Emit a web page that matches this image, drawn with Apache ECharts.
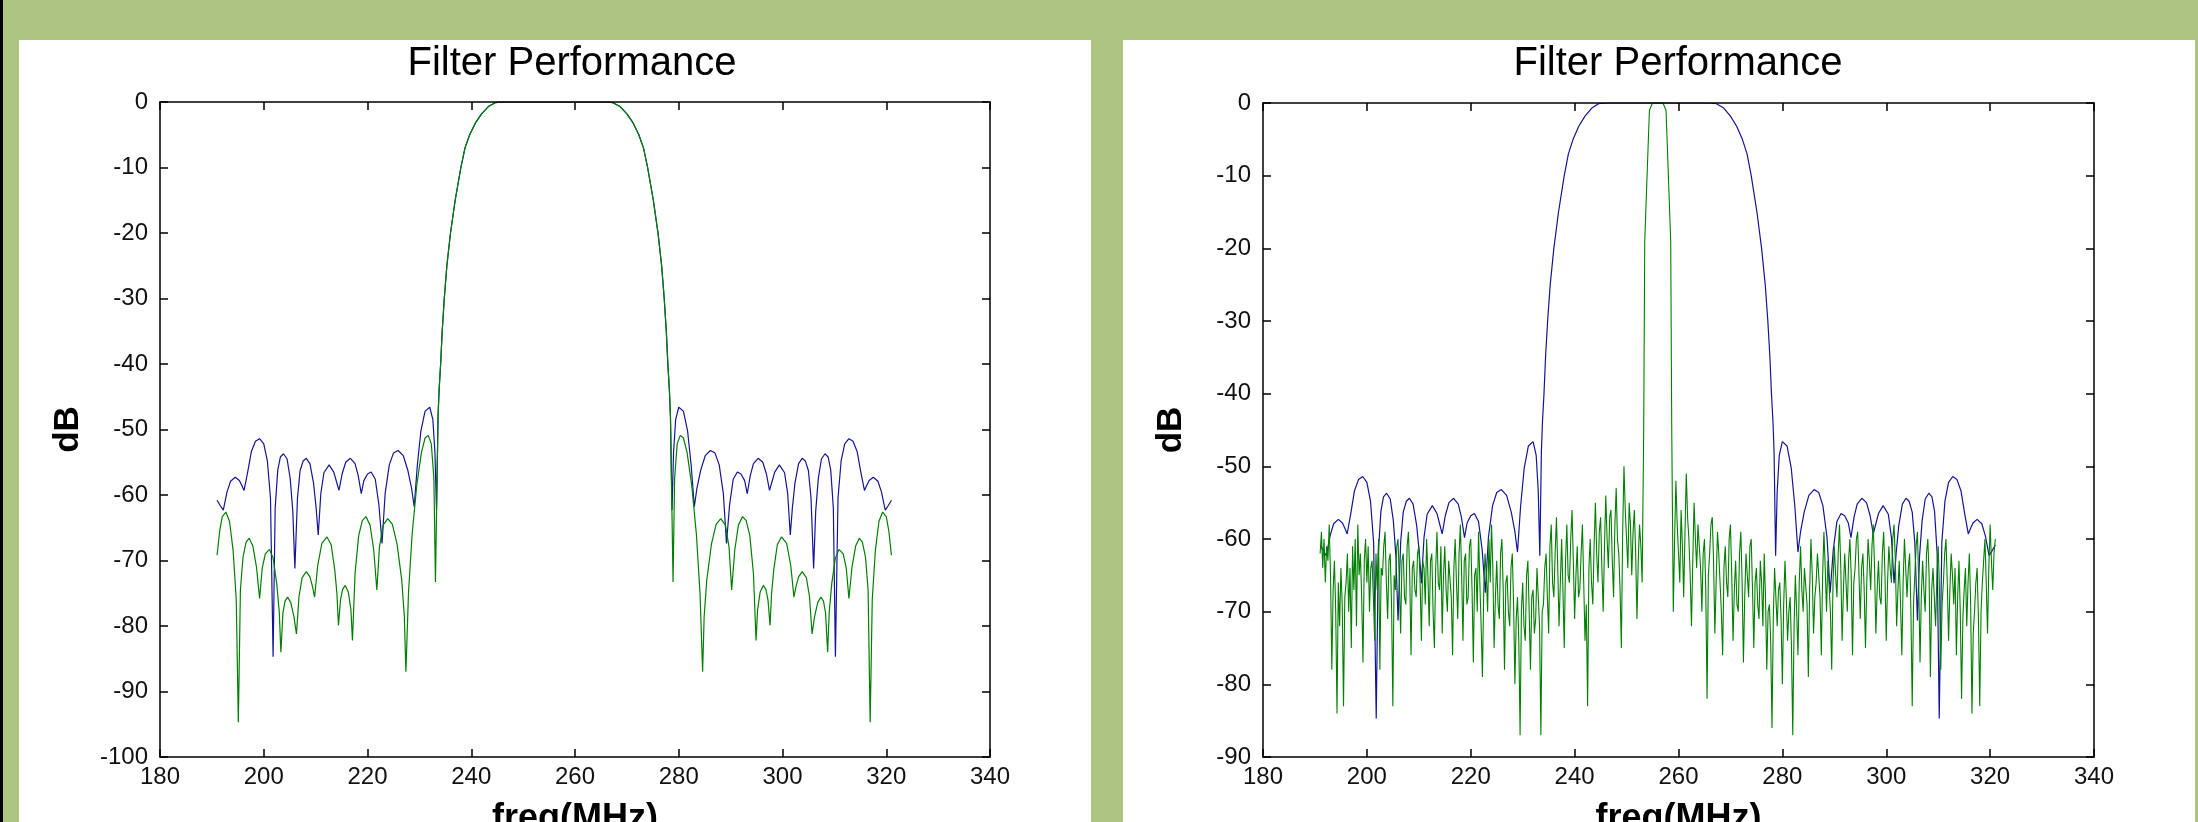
<!DOCTYPE html>
<html>
<head>
<meta charset="utf-8">
<title>Filter Performance</title>
<script src="https://cdn.jsdelivr.net/npm/echarts@6/dist/echarts.min.js"></script>
<style>
  html, body { margin: 0; padding: 0; background: #adc482; }
  #main { width: 2198px; height: 822px; }
</style>
</head>
<body>
<div id="main"></div>
<script>
// ---- data (freq in MHz, level in dB) ----

// wide filter (blue), sidelobes below the passband
var blueLow = [
  [191.0,-60.8],[191.6,-61.6],[192.2,-62.3],
  [192.9,-59.6],[193.6,-57.9],[194.5,-57.3],[195.3,-57.8],[195.8,-58.6],[196.2,-59.3],
  [196.9,-56.5],[197.6,-53.4],[198.4,-51.8],[199.2,-51.4],[200.0,-52.2],[200.7,-54.8],[201.3,-60.5],[201.8,-84.7],
  [202.2,-62.0],[202.7,-56.2],[203.2,-54.2],[203.8,-53.7],[204.5,-54.5],[205.1,-57.5],[205.6,-62.5],[206.0,-71.2],
  [206.5,-60.5],[207.0,-56.3],[207.6,-54.8],[208.2,-54.4],[208.9,-55.2],[209.6,-58.2],[210.1,-62.0],[210.5,-66.1],
  [211.0,-59.8],[211.6,-56.6],[212.6,-55.4],[213.5,-56.5],[214.0,-57.9],[214.5,-59.3],
  [215.1,-56.8],[215.8,-55.0],[216.7,-54.4],[217.6,-55.2],[218.2,-57.0],[218.8,-59.8],
  [219.3,-57.8],[220.0,-56.8],[220.7,-56.5],[221.5,-57.6],[222.2,-61.5],[222.8,-67.4],
  [223.4,-59.8],[224.2,-55.4],[225.0,-53.6],[225.9,-53.2],[226.9,-54.0],[227.8,-56.3],[228.5,-59.0],[229.0,-61.8],
  [229.6,-55.5],[230.3,-50.2],[231.1,-47.2],[232.0,-46.6],[232.6,-48.5],[233.0,-53.5],[233.3,-62.3]
];

// passband, shared by the blue and the green filter of the left plot
var mainLobe = [
  [233.6,-48],[233.8,-44],[234.1,-40],[234.4,-35],[234.8,-30],[235.3,-25],[236.0,-20],[236.9,-15],
  [238.0,-10],[238.8,-7],[239.7,-5],[240.8,-3.2],[242.0,-1.8],[243.3,-0.7],[244.6,-0.1],[246.0,0],
  [256.0,0],[266.0,0],[267.3,-0.1],[268.7,-0.7],[270.0,-1.8],[271.2,-3.2],[272.3,-5],[273.2,-7],
  [274.0,-10],[275.1,-15],[276.0,-20],[276.7,-25],[277.2,-30],[277.6,-35],[277.9,-40],[278.2,-44],[278.4,-48]
];

// wide filter (blue), sidelobes above the passband
var blueHigh = [
  [278.7,-62.3],
  [279.0,-53.5],[279.4,-48.5],[280.0,-46.6],[280.9,-47.2],[281.7,-50.2],[282.4,-55.5],[283.0,-61.8],
  [283.5,-59.0],[284.2,-56.3],[285.1,-54.0],[286.1,-53.2],[287.0,-53.6],[287.8,-55.4],[288.6,-59.8],[289.2,-67.4],
  [289.8,-61.5],[290.5,-57.6],[291.3,-56.5],[292.0,-56.8],[292.7,-57.8],[293.2,-59.8],
  [293.8,-57.0],[294.4,-55.2],[295.3,-54.4],[296.2,-55.0],[296.9,-56.8],[297.5,-59.3],
  [298.0,-57.9],[298.5,-56.5],[299.4,-55.4],[300.4,-56.6],[301.0,-59.8],[301.5,-66.1],
  [301.9,-62.0],[302.4,-58.2],[303.1,-55.2],[303.8,-54.4],[304.4,-54.8],[305.0,-56.3],[305.5,-60.5],[306.0,-71.2],
  [306.4,-62.5],[306.9,-57.5],[307.5,-54.5],[308.2,-53.7],[308.8,-54.2],[309.3,-56.2],[309.8,-62.0],[310.2,-84.7],
  [310.7,-60.5],[311.3,-54.8],[312.0,-52.2],[312.8,-51.4],[313.6,-51.8],[314.4,-53.4],[315.1,-56.5],[315.8,-59.3],
  [316.2,-58.6],[316.7,-57.8],[317.5,-57.3],[318.4,-57.9],[319.1,-59.6],[319.8,-62.3],
  [320.4,-61.6],[321.0,-60.8]
];

// second filter (green, left plot), sidelobes below the passband
var greenLow = [
  [191.0,-69.2],[191.5,-65.5],[192.0,-63.3],[192.7,-62.6],[193.4,-64.0],[194.1,-68.5],[194.7,-76.0],[195.1,-94.7],
  [195.5,-74.5],[196.0,-69.5],[196.6,-67.2],[197.2,-66.6],[197.9,-67.8],[198.6,-71.0],[199.2,-75.8],
  [199.7,-71.2],[200.3,-69.0],[201.1,-68.3],[201.8,-69.6],[202.5,-73.5],[203.0,-78.0],[203.3,-84.0],
  [203.7,-78.0],[204.1,-76.2],[204.6,-75.6],[205.2,-76.4],[205.8,-78.5],[206.3,-81.2],
  [206.8,-75.5],[207.4,-72.6],[208.2,-71.7],[208.9,-72.5],[209.4,-74.0],[209.8,-75.6],
  [210.4,-70.8],[211.2,-67.4],[212.2,-66.4],[213.0,-67.6],[213.7,-71.5],[214.1,-75.0],[214.4,-79.9],
  [214.8,-76.0],[215.2,-74.4],[215.7,-73.8],[216.3,-74.8],[216.8,-77.5],[217.1,-82.2],
  [217.6,-72.0],[218.3,-66.2],[219.0,-63.9],[219.7,-63.3],[220.5,-64.6],[221.2,-68.4],[221.8,-74.5],
  [222.3,-68.0],[223.0,-64.6],[223.9,-63.6],[224.8,-64.5],[225.7,-67.5],[226.6,-73.0],[227.1,-78.5],[227.4,-87.0],
  [227.9,-75.0],[228.6,-66.0],[229.5,-58.5],[230.4,-53.5],[231.1,-51.3],[231.7,-50.9],[232.3,-52.2],[232.8,-57.5],[233.1,-73.3]
];

// second filter (green, left plot), sidelobes above the passband
var greenHigh = [
  [278.9,-73.3],[279.2,-57.5],[279.7,-52.2],[280.3,-50.9],[280.9,-51.3],[281.6,-53.5],[282.5,-58.5],[283.4,-66.0],[284.1,-75.0],[284.6,-87.0],
  [284.9,-78.5],[285.4,-73.0],[286.3,-67.5],[287.2,-64.5],[288.1,-63.6],[289.0,-64.6],[289.7,-68.0],[290.2,-74.5],
  [290.8,-68.4],[291.5,-64.6],[292.3,-63.3],[293.0,-63.9],[293.7,-66.2],[294.4,-72.0],[294.9,-82.2],
  [295.2,-77.5],[295.7,-74.8],[296.3,-73.8],[296.8,-74.4],[297.2,-76.0],[297.6,-79.9],
  [297.9,-75.0],[298.3,-71.5],[299.0,-67.6],[299.8,-66.4],[300.8,-67.4],[301.6,-70.8],[302.2,-75.6],
  [302.6,-74.0],[303.1,-72.5],[303.8,-71.7],[304.6,-72.6],[305.2,-75.5],[305.7,-81.2],
  [306.2,-78.5],[306.8,-76.4],[307.4,-75.6],[307.9,-76.2],[308.3,-78.0],[308.7,-84.0],
  [309.0,-78.0],[309.5,-73.5],[310.2,-69.6],[310.9,-68.3],[311.7,-69.0],[312.3,-71.2],[312.8,-75.8],
  [313.4,-71.0],[314.1,-67.8],[314.8,-66.6],[315.4,-67.2],[316.0,-69.5],[316.5,-74.5],[316.9,-94.7],
  [317.3,-76.0],[317.9,-68.5],[318.6,-64.0],[319.3,-62.6],[320.0,-63.3],[320.5,-65.5],[321.0,-69.2]
];

// narrowband signal (green, right plot): noise floor sampled every 0.25 MHz
var floorStep = 0.25;
var floorLowStart = 191.0;   // 191.0 .. 253.0
var floorLow = [
  -62,-59,-64,-60,-66,-61,-63,-58,-65,-78,-67,-63,-70,-84,-66,-72,-64,-69,-83,-68,
  -66,-62,-70,-64,-75,-61,-67,-60,-72,-58,-65,-62,-68,-77,-63,-60,-66,-61,-70,-64,
  -63,-68,-74,-62,-67,-60,-78,-64,-65,-61,-59,-66,-71,-63,-62,-69,-83,-65,-67,-61,
  -60,-66,-73,-63,-62,-68,-69,-61,-59,-65,-76,-64,-63,-67,-68,-62,-61,-66,-74,-63,
  -64,-69,-60,-65,-72,-63,-62,-70,-75,-64,-59,-66,-67,-61,-73,-65,-61,-67,-70,-63,
  -63,-68,-76,-64,-60,-66,-71,-62,-58,-65,-74,-63,-62,-69,-68,-61,-60,-67,-77,-65,
  -64,-70,-59,-66,-72,-79,-67,-62,-65,-70,-60,-66,-58,-64,-75,-68,-63,-69,-71,-62,
  -60,-67,-78,-66,-65,-70,-72,-64,-62,-69,-80,-71,-68,-74,-87,-70,-66,-72,-74,-65,
  -63,-70,-78,-68,-67,-73,-71,-64,-64,-72,-87,-70,-69,-64,-62,-68,-73,-61,-58,-66,
  -68,-62,-57,-64,-72,-66,-60,-67,-75,-63,-58,-65,-66,-60,-56,-63,-71,-65,-61,-68,
  -67,-62,-58,-66,-74,-69,-83,-64,-60,-66,-69,-61,-55,-62,-66,-59,-57,-64,-70,-61,
  -54,-60,-64,-57,-56,-63,-68,-58,-53,-60,-62,-67,-75,-59,-50,-56,-60,-64,-55,-58,
  -65,-59,-56,-62,-71,-63,-58,-61,-66
];
var narrowLobe = [
  [253.3,-45],[253.5,-19],[254.4,-1],[255.0,0],[257.0,0],[257.6,-1],[258.5,-19],[258.7,-45]
];
var floorHighStart = 259.0;  // 259.0 .. 321.0
var floorHigh = [
  -70,-60,-52,-58,-62,-66,-56,-61,-68,-59,-51,-57,-60,-65,-72,-63,-55,-60,-64,-58,
  -58,-64,-70,-62,-60,-67,-82,-65,-62,-58,-57,-63,-73,-66,-59,-62,-66,-70,-76,-64,
  -61,-66,-68,-60,-58,-65,-74,-67,-63,-69,-70,-62,-59,-66,-77,-68,-62,-65,-68,-61,
  -60,-67,-75,-66,-64,-69,-71,-63,-66,-72,-62,-68,-78,-70,-69,-74,-86,-71,-64,-68,
  -72,-67,-66,-71,-80,-69,-63,-68,-74,-70,-68,-75,-87,-72,-65,-70,-76,-66,-61,-67,
  -70,-64,-64,-69,-79,-67,-60,-65,-73,-68,-66,-62,-62,-68,-76,-65,-59,-64,-70,-63,
  -63,-70,-78,-66,-61,-65,-68,-62,-58,-64,-74,-67,-62,-66,-70,-63,-60,-65,-76,-66,
  -64,-60,-59,-65,-71,-64,-62,-67,-75,-66,-60,-63,-67,-61,-58,-64,-73,-67,-63,-68,
  -69,-62,-59,-65,-74,-66,-61,-64,-66,-60,-58,-63,-72,-67,-63,-69,-76,-66,-60,-64,
  -68,-64,-62,-70,-83,-69,-65,-61,-59,-66,-77,-68,-63,-67,-70,-62,-60,-65,-79,-67,
  -64,-68,-72,-65,-61,-67,-78,-69,-66,-62,-60,-66,-74,-67,-62,-65,-69,-64,-76,-68,
  -63,-70,-82,-71,-67,-64,-72,-66,-62,-69,-84,-73,-70,-66,-64,-71,-83,-70,-66,-63,
  -60,-66,-73,-64,-58,-63,-67,-62,-60
];

var xTicks = { min: 180, max: 340, step: 20 };
var yLeft = { min: -100, max: 0, step: 10 };
var yRight = { min: -90, max: 0, step: 10 };

// ---- build ----
function onGrid(start, vals) {
  return vals.map(function (v, i) { return [start + i * floorStep, v]; });
}

var wideFilter = blueLow.concat(mainLobe, blueHigh);
var narrowFilter = greenLow.concat(mainLobe, greenHigh);
var narrowSignal = onGrid(floorLowStart, floorLow).concat(narrowLobe, onGrid(floorHighStart, floorHigh));

var FONT = 'Liberation Sans, Arial, sans-serif';
var BLUE = '#14149a';
var GREEN = '#008000';

function xAx(grid, pos) {
  return {
    type: 'value', gridIndex: grid, position: pos,
    min: xTicks.min, max: xTicks.max, interval: xTicks.step, z: 5,
    axisLine: { onZero: false, lineStyle: { color: '#000', width: 1.5 } },
    axisTick: { inside: true, length: 8, lineStyle: { color: '#000', width: 1.5 } },
    axisLabel: { show: pos === 'bottom', fontSize: 24, color: '#111', margin: 8, fontFamily: FONT },
    splitLine: { show: false },
    name: pos === 'bottom' ? 'freq(MHz)' : '',
    nameLocation: 'middle', nameGap: 44,
    nameTextStyle: { fontSize: 36, fontWeight: 'bold', color: '#000', fontFamily: FONT }
  };
}

function yAx(grid, pos, range) {
  return {
    type: 'value', gridIndex: grid, position: pos,
    min: range.min, max: range.max, interval: range.step, z: 5,
    axisLine: { onZero: false, lineStyle: { color: '#000', width: 1.5 } },
    axisTick: { inside: true, length: 8, lineStyle: { color: '#000', width: 1.5 } },
    axisLabel: { show: pos === 'left', fontSize: 24, color: '#111', margin: 12, fontFamily: FONT },
    splitLine: { show: false },
    name: pos === 'left' ? 'dB' : '',
    nameLocation: 'middle', nameRotate: 90, nameGap: 74,
    nameTextStyle: { fontSize: 35, fontWeight: 'bold', color: '#000', fontFamily: FONT }
  };
}

function line(data, color, xi, yi, w) {
  return {
    type: 'line', data: data, xAxisIndex: xi, yAxisIndex: yi,
    symbol: 'none', silent: true, clip: true,
    lineStyle: { width: w || 1.2, color: color }
  };
}

var myChart = echarts.init(document.getElementById('main'));

var option = {
  animation: false,
  backgroundColor: '#adc482',
  title: [
    { text: 'Filter Performance', left: 572, top: 44, textAlign: 'center', padding: 0,
      textStyle: { fontSize: 40, fontWeight: 'normal', color: '#000', fontFamily: FONT } },
    { text: 'Filter Performance', left: 1678, top: 44, textAlign: 'center', padding: 0,
      textStyle: { fontSize: 40, fontWeight: 'normal', color: '#000', fontFamily: FONT } }
  ],
  graphic: [
    { type: 'rect', z: -10, shape: { x: 0, y: 0, width: 3, height: 822 }, style: { fill: '#000' } },
    { type: 'rect', z: -10, shape: { x: 19, y: 40, width: 1072, height: 782 }, style: { fill: '#fff' } },
    { type: 'rect', z: -10, shape: { x: 1123, y: 40, width: 1072, height: 782 }, style: { fill: '#fff' } }
  ],
  grid: [
    { left: 160, top: 102, width: 830, height: 655, outerBoundsMode: 'none' },
    { left: 1263, top: 103, width: 831, height: 654, outerBoundsMode: 'none' }
  ],
  xAxis: [xAx(0, 'bottom'), xAx(0, 'top'), xAx(1, 'bottom'), xAx(1, 'top')],
  yAxis: [yAx(0, 'left', yLeft), yAx(0, 'right', yLeft), yAx(1, 'left', yRight), yAx(1, 'right', yRight)],
  series: [
    line(wideFilter, BLUE, 0, 0),
    line(narrowFilter, GREEN, 0, 0),
    line(wideFilter, BLUE, 2, 2),
    line(narrowSignal, GREEN, 2, 2, 1.1)
  ]
};

myChart.setOption(option);
</script>
</body>
</html>
